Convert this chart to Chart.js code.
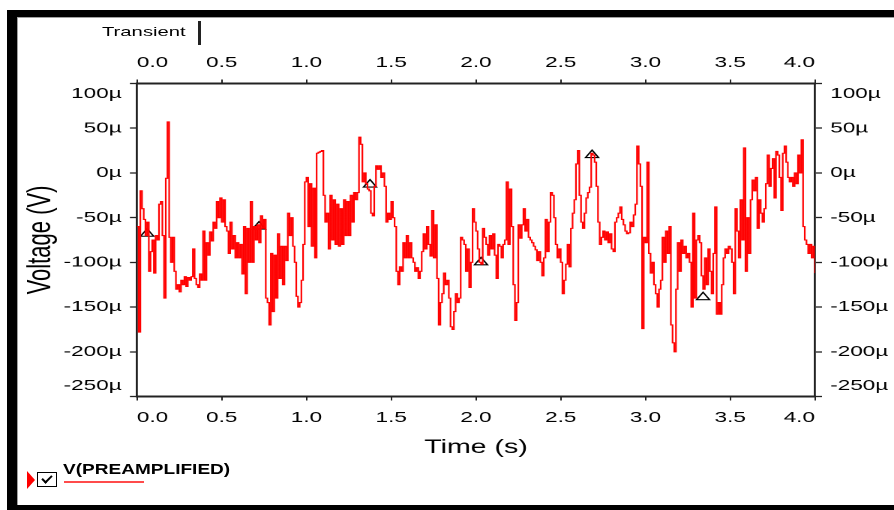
<!DOCTYPE html>
<html>
<head>
<meta charset="utf-8">
<script src="https://cdn.jsdelivr.net/npm/chart.js@4.4.0/dist/chart.umd.min.js"></script>
<style>
  body { margin: 0; background: #fff; width: 894px; height: 510px; overflow: hidden; position: relative;
         font-family: 'Liberation Sans', Arial, sans-serif; }
  .bar { position: absolute; background: #000; }
  .edge { position: absolute; background: #a0a0a0; }
  #wrap { position: absolute; left: 0; top: 0; width: 596px; height: 510px; transform: scaleX(1.5); transform-origin: 0 0; }
  .stretch { position: absolute; white-space: nowrap; transform-origin: 0 0; color: #000; }
</style>
</head>
<body>
<div class="bar" style="left:7px;top:10px;width:10px;height:500px"></div>
<div class="bar" style="left:7px;top:10px;width:887px;height:7px"></div>
<div class="bar" style="left:7px;top:505px;width:887px;height:5px"></div>
<div class="edge" style="left:17px;top:17px;width:877px;height:1px"></div>
<div class="edge" style="left:17px;top:17px;width:1px;height:488px"></div>

<div id="wrap"><canvas id="grapher" width="596" height="510"></canvas></div>

<!-- tab and legend -->
<div class="stretch" style="left:102px;top:24px;font-size:13.5px;line-height:16px;transform:scaleX(1.5)">Transient</div>
<div style="position:absolute;left:198px;top:21px;width:3px;height:24px;background:#222"></div>

<div style="position:absolute;left:27px;top:471px;width:0;height:0;border-left:8px solid #f00;border-top:9.5px solid transparent;border-bottom:9.5px solid transparent"></div>
<div style="position:absolute;left:37px;top:472px;width:20px;height:15px;box-sizing:border-box;border:1.5px solid #000;background:#fff">
  <div style="position:absolute;left:6px;top:0px;width:4px;height:8px;border-right:2.5px solid #000;border-bottom:2.5px solid #000;transform:rotate(45deg)"></div>
</div>
<div class="stretch" style="left:63px;top:460px;font-size:15px;font-weight:bold;line-height:17px;transform:scaleX(1.27)">V(PREAMPLIFIED)</div>
<div style="position:absolute;left:64px;top:481px;width:80px;height:2px;background:#ff4b4b"></div>

<script>
// V(PREAMPLIFIED) transient, one sample every 10 ms, values in µV
const sampleStep = 0.01;
const voltage = [
  -60, -178, -20, -40, -52, -70, -55, -110, -88, -75,
  -112, -70, -75, -35, -32, -70, -140, -6, 57, -72,
  -100, -72, -110, -130, -125, -133, -120, -125, -116, -127,
  -117, -120, -116, -85, -118, -125, -128, -113, -120, -65,
  -120, -78, -92, -66, -76, -55, -62, -32, -50, -28,
  -55, -30, -60, -65, -90, -55, -85, -70, -95, -78,
  -95, -80, -113, -60, -135, -62, -100, -32, -100, -60,
  -75, -58, -78, -48, -62, -52, -140, -145, -170, -90,
  -155, -92, -140, -68, -118, -82, -125, -82, -98, -45,
  -70, -50, -82, -100, -138, -150, -145, -120, -80, -10,
  -5, -60, -12, -82, -17, -95, 22, 23, 24, 25,
  -25, -55, -45, -85, -25, -75, -30, -80, -35, -82,
  -40, -80, -30, -70, -32, -70, -25, -55, -22, -30,
  -22, 40, 32, -10, 0, -12, -18, -20, -45, -48,
  -15, 8, 4, 8, -5, 0, -15, -55, -45, -52,
  -32, -50, -60, -110, -125, -105, -110, -78, -95, -70,
  -95, -78, -95, -100, -110, -106, -118, -110, -88, -68,
  -85, -60, -80, -93, -42, -95, -58, -118, -170, -145,
  -135, -112, -125, -120, -140, -172, -175, -155, -135, -145,
  -140, -72, -75, -80, -110, -85, -128, -100, -40, -55,
  -65, -85, -100, -102, -62, -72, -80, -92, -70, -85,
  -68, -92, -118, -80, -82, -95, -80, -75, -10, -80,
  -18, -60, -125, -165, -145, -58, -73, -58, -40, -65,
  -52, -72, -75, -78, -82, -86, -98, -88, -100, -115,
  -95, -52, -88, -55, -22, -25, -50, -80, -95, -85,
  -100, -135, -120, -102, -80, -105, -62, -45, -30, 10,
  25, -25, -55, -62, -45, -28, -22, -16, 22, 20,
  12, -15, -55, -80, -72, -65, -75, -66, -78, -68,
  -85, -88, -55, -50, -45, -38, -52, -58, -65, -68,
  -67, -55, -60, -47, -35, 30, 10, -15, -174, -72,
  -78, 12, -90, -112, -100, -125, -135, -150, -130, -120,
  -72, -100, -65, -90, -60, -170, -190, -200, -130, -78,
  -110, -75, -90, -82, -95, -90, -100, -150, -45, -140,
  -75, -70, -78, -115, -130, -95, -125, -85, -110, -135,
  -90, -38, -158, -145, -158, -125, -95, -85, -90, -82,
  -85, -100, -135, -40, -65, -95, -30, -75, 28, -110,
  -50, -90, -30, -8, -20, -5, -62, -30, -45, -55,
  -40, -12, 20, -15, 5, 16, -28, 24, 20, -5,
  -42, 22, 30, 12, -5, -10, -5, -15, 0, -12,
  20, 0, 37, -60, -75, -80, -90, -80, -95, -82,
  -112
];

// data markers (triangles) on the trace
const markerTimes = [0.06, 0.72, 1.375, 2.03, 2.685, 3.34];
const markerValues = [-68, -60, -13, -100, 20, -139];

const timeTicks = [0, 0.5, 1, 1.5, 2, 2.5, 3, 3.5, 4];
const voltTicks = [-250, -200, -150, -100, -50, 0, 50, 100];

const fontFamily = "'Liberation Sans', Arial, sans-serif";
const axisColor = '#222';

const tracePoints = voltage.map((v, i) => ({ x: i * sampleStep, y: v }));
const markerPoints = markerTimes.map((t, i) => ({ x: t, y: markerValues[i] }));

// edge labels sit inside the plot, like the grapher does
function voltLabel(v) {
  if (v === voltTicks[voltTicks.length - 1]) return ['', v + 'µ'];
  if (v === voltTicks[0]) return [v + 'µ', ''];
  return v + 'µ';
}

function timeAxis(position, withTitle) {
  return {
    type: 'linear',
    position: position,
    min: timeTicks[0],
    max: timeTicks[timeTicks.length - 1],
    afterBuildTicks: s => { s.ticks = timeTicks.map(v => ({ value: v })); },
    afterFit: s => { s.height = position === 'bottom' ? 113.5 : 83.5; },
    ticks: {
      align: 'inner',
      autoSkip: false,
      maxRotation: 0,
      color: '#000',
      padding: position === 'bottom' ? 8.5 : 7.5,
      font: { family: fontFamily, size: 15, lineHeight: 1.2 },
      callback: v => v.toFixed(1)
    },
    grid: { drawOnChartArea: false, drawTicks: true, tickLength: 4, tickColor: axisColor, tickWidth: 1 },
    border: { display: true, color: axisColor, width: 2 },
    title: {
      display: withTitle,
      text: 'Time (s)',
      color: '#000',
      font: { family: fontFamily, size: 19 },
      padding: { top: 0, bottom: 51 }
    }
  };
}

function voltAxis(position, withTitle) {
  return {
    type: 'linear',
    position: position,
    min: voltTicks[0],
    max: voltTicks[voltTicks.length - 1],
    afterBuildTicks: s => { s.ticks = voltTicks.map(v => ({ value: v })); },
    afterFit: s => { s.width = position === 'left' ? 91.3 : 52.7; },
    ticks: {
      autoSkip: false,
      color: '#000',
      padding: 5.5,
      font: { family: fontFamily, size: 15, lineHeight: 1.4 },
      callback: voltLabel
    },
    grid: { drawOnChartArea: false, drawTicks: true, tickLength: 4.7, tickColor: axisColor, tickWidth: 1.3 },
    border: { display: true, color: axisColor, width: 1.4 },
    title: {
      display: withTitle,
      text: 'Voltage (V)',
      color: '#000',
      font: { family: fontFamily, size: 22 },
      padding: { top: 14, bottom: 0 }
    }
  };
}

new Chart(document.getElementById('grapher'), {
  type: 'line',
  data: {
    datasets: [
      {
        label: 'V(PREAMPLIFIED)',
        data: tracePoints,
        xAxisID: 'x',
        yAxisID: 'y',
        borderColor: '#ff0000',
        borderWidth: 1.1,
        pointRadius: 0,
        stepped: true,
        tension: 0
      },
      {
        label: 'markers',
        data: markerPoints,
        xAxisID: 'x',
        yAxisID: 'y',
        showLine: false,
        pointStyle: 'triangle',
        pointRadius: 5,
        pointBorderColor: '#000',
        pointBackgroundColor: 'rgba(255,255,255,0.85)',
        pointBorderWidth: 1.1
      }
    ]
  },
  options: {
    responsive: false,
    animation: false,
    devicePixelRatio: 2,
    layout: { padding: 0 },
    plugins: { legend: { display: false }, tooltip: { enabled: false } },
    scales: {
      x: timeAxis('bottom', true),
      xTop: timeAxis('top', false),
      y: voltAxis('left', true),
      yRight: voltAxis('right', false)
    }
  }
});
</script>
</body>
</html>
